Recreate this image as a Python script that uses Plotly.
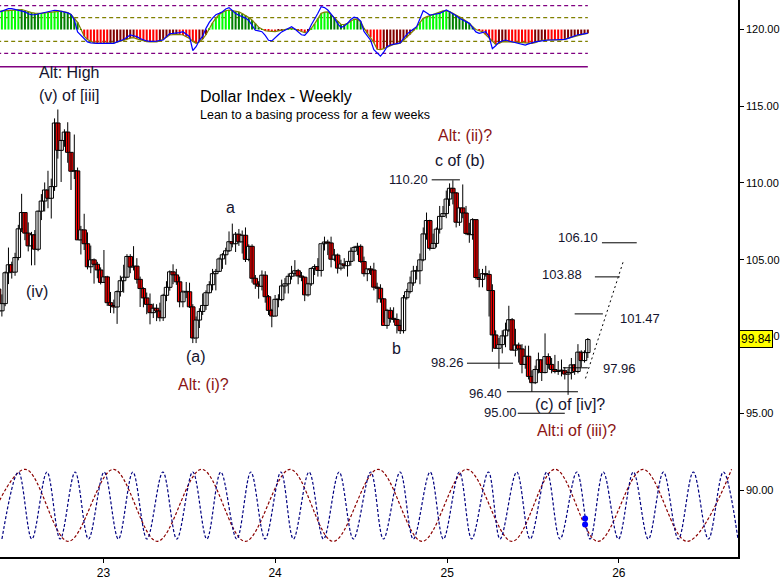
import pandas as pd
import plotly.graph_objects as go
from datetime import datetime, timedelta

# ---------------- data ----------------
week_start = "2022-05-23"
opens = [103.09,101.67,102.14,104.15,104.67,104.19,105.14,107.01,108.07,106.73,105.90,106.62,105.68,108.16,108.82,109.54,109.00,109.76,113.90,112.12,112.76,113.31,111.99,110.76,110.78,106.29,106.94,106.04,104.54,104.99,104.70,104.33,
 103.52,103.88,102.20,102.02,101.92,102.92,103.63,103.86,105.21,104.52,104.58,103.72,103.12,102.51,102.09,101.55,101.84,101.66,101.22,102.68,103.20,104.21,104.01,103.56,102.26,102.90,102.91,101.93,99.90,101.07,101.63,102.02,102.85,103.37,104.09,104.24,105.05,105.32,105.58,106.17,106.04,106.66,106.16,106.59,105.02,105.87,103.79,103.41,103.27,103.99,102.59,101.70,
 101.33,102.42,102.40,103.29,103.43,103.92,104.11,104.28,103.94,103.86,102.71,103.43,104.43,104.55,104.30,106.04,106.15,106.09,105.03,105.30,104.45,104.72,104.61,104.89,105.55,105.80,105.87,104.88,104.09,104.40,104.33,103.21,103.14,102.45,100.72,101.70,101.18,101.11,100.72,100.38,102.52,102.92,103.49,104.26,104.28,104.99,106.68,107.55,105.74,106.06,106.99,107.82,108.00,
 108.95,109.65,109.35,107.44,108.37,108.04,106.71,106.63,107.61,103.84,103.72,104.09,104.04,102.99,100.10,99.23,99.47,100.04,100.42,101.09,99.11,99.44,99.19,98.18,98.71,97.40,96.99,97.85,98.48,97.65,98.69,98.18,97.85,97.72,97.77,97.77,97.55,97.65,98.15,97.72,98.98,98.43,98.95]
highs = [103.21,102.74,104.24,105.79,104.87,105.45,107.27,109.29,108.06,107.43,106.81,106.93,108.20,109.27,110.03,110.79,110.28,114.20,114.78,112.81,113.49,113.95,112.00,113.15,111.00,107.20,107.99,106.78,105.92,105.08,104.86,104.50,
 105.63,103.95,102.90,102.40,103.00,103.96,104.67,105.36,105.36,105.88,105.10,103.90,103.20,102.86,102.80,102.15,102.10,102.20,102.78,103.60,104.30,104.70,104.40,103.90,103.00,103.55,103.50,102.10,101.30,101.84,102.80,103.00,103.60,104.40,104.40,105.15,105.43,105.78,106.84,107.35,106.80,107.00,106.90,107.10,106.00,106.00,104.00,103.60,104.30,104.25,102.70,101.80,
 102.70,102.75,103.70,103.80,104.10,104.60,104.97,104.40,104.20,103.90,103.50,104.50,104.70,105.10,106.00,106.50,106.30,106.50,105.70,105.40,105.00,105.10,104.90,105.80,105.90,106.10,106.00,105.20,104.40,104.60,104.80,103.50,103.40,102.50,101.80,101.90,101.90,101.50,101.10,102.70,103.10,103.90,104.60,104.60,105.40,107.10,108.07,107.60,106.70,107.10,108.50,108.50,109.50,
 109.97,110.17,109.40,108.40,109.90,108.50,107.40,107.70,107.60,104.40,104.40,104.60,104.30,103.40,100.40,99.90,100.40,100.90,102.00,101.20,100.50,99.60,99.50,99.40,99.40,97.80,98.10,98.95,98.50,100.20,98.90,98.60,98.80,98.40,98.50,98.00,97.90,98.60,98.20,99.50,99.10,99.10,99.90]
lows = [101.43,101.30,101.97,103.41,103.77,103.95,104.96,106.80,106.27,105.54,104.63,104.64,105.55,107.58,108.14,108.35,107.68,109.48,111.58,110.06,112.35,111.31,109.54,110.25,106.29,105.34,105.63,104.37,104.12,103.44,103.79,103.39,
 103.50,101.99,101.53,101.50,100.82,102.60,102.85,103.80,104.12,104.30,103.44,101.92,101.90,101.45,100.79,101.20,101.00,100.98,101.01,102.30,102.98,103.40,103.36,101.90,101.90,102.50,101.86,99.57,99.57,100.55,101.40,101.73,102.80,103.00,103.00,104.20,104.40,104.67,105.50,105.80,105.50,105.90,105.40,104.85,104.90,103.50,103.10,102.46,103.00,102.20,101.40,100.60,
 101.30,101.90,102.30,102.80,102.80,103.70,103.90,103.40,103.60,102.30,102.60,103.30,104.00,103.90,103.90,105.60,105.30,104.50,104.90,104.10,104.30,104.40,103.90,104.60,104.90,105.30,104.80,103.90,103.60,104.00,103.00,102.20,102.20,100.90,100.50,100.90,100.90,100.20,100.16,100.20,102.40,102.80,103.30,103.70,103.40,104.90,106.30,105.60,105.70,105.80,106.70,107.80,107.70,
 108.50,108.60,107.10,107.20,107.70,106.60,106.10,106.30,103.70,103.20,103.20,103.90,101.30,99.00,99.20,97.90,98.90,99.30,100.30,99.10,98.70,98.30,97.60,97.90,97.20,96.40,96.90,97.60,97.10,97.60,97.90,97.60,97.60,97.50,97.40,97.20,96.20,97.20,97.50,97.60,98.00,98.30,98.60]
closes = [101.67,102.14,104.15,104.67,104.19,105.14,107.01,108.07,106.73,105.90,106.62,105.68,108.16,108.82,109.54,109.00,109.76,113.90,112.12,112.76,113.31,111.99,110.76,110.78,106.29,106.94,106.04,104.54,104.99,104.70,104.33,103.52,
 103.88,102.20,102.02,101.92,102.92,103.63,103.86,105.21,104.52,104.58,103.72,103.12,102.51,102.09,101.55,101.84,101.66,101.22,102.68,103.20,104.21,104.01,103.56,102.26,102.90,102.91,101.93,99.90,101.07,101.63,102.02,102.85,103.37,104.09,104.24,105.05,105.32,105.58,106.17,106.04,106.66,106.16,106.59,105.02,105.87,103.79,103.41,103.27,103.99,102.59,101.70,101.33,
 102.42,102.40,103.29,103.43,103.92,104.11,104.28,103.94,103.86,102.71,103.43,104.43,104.55,104.30,106.04,106.15,106.09,105.03,105.30,104.45,104.72,104.61,104.89,105.55,105.80,105.87,104.88,104.09,104.40,104.33,103.21,103.14,102.45,100.72,101.70,101.18,101.11,100.72,100.38,102.52,102.92,103.49,104.26,104.28,104.99,106.68,107.55,105.74,106.06,106.99,107.82,108.00,108.95,
 109.65,109.35,107.44,108.37,108.04,106.71,106.63,107.61,103.84,103.72,104.09,104.04,102.99,100.10,99.23,99.47,100.04,100.42,101.09,99.11,99.44,99.19,98.18,98.71,97.40,96.99,97.85,98.48,97.65,98.69,98.18,97.85,97.72,97.77,97.77,97.55,97.65,98.15,97.72,98.98,98.43,98.95,99.80]

# oscillator (top panel): smoothed value (histogram) and fast line
osc_hist = [77,78,80,81,82,83,85,84,80,75,71,69,68,68,70,72,74,76,78,77,74,71,63,48,30,2,-28,-42,-50,-56,
 -58,-58,-58,-58,-57,-56,-53,-50,-46,-41,-36,-34,-39,-44,-48,-51,-52,-52,-52,-48,-41,-32,-23,-21,-20,-21,-23,-30,-37,-50,
 -58,-52,-40,-22,5,28,48,63,72,79,82,80,77,74,67,60,50,40,25,10,2,-5,-7,-9,-9,-6,-2,1,3,5,
 2,-2,-8,-13,-8,5,24,48,68,73,74,62,49,36,22,21,26,35,44,42,33,6,-15,-32,-55,-83,-84,-80,-74,-68,
 -63,-60,-57,-45,-33,-21,-5,11,30,47,53,58,61,67,72,78,78,75,68,61,54,45,36,27,12,0,-5,-9,-22,-36,
 -50,-62,-58,-52,-51,-51,-51,-52,-54,-55,-56,-57,-58,-55,-50,-45,-44,-44,-44,-44,-44,-44,-40,-36,-31,-27,-23,-20,-18,-16]
osc_fast = [72,78,84,88,88,85,83,80,74,66,62,62,65,67,70,74,78,81,80,77,74,70,63,40,-10,-25,-40,-52,-56,-58,
 -58,-58,-58,-58,-58,-58,-52,-47,-42,-32,-23,-26,-30,-38,-44,-48,-50,-51,-49,-46,-44,-30,-17,-16,-16,-13,-9,-20,-30,-88,
 -72,-45,-28,5,30,48,62,68,75,86,92,80,67,60,54,48,38,18,-3,-6,-9,-25,-45,-48,-37,-22,-10,-2,5,12,
 2,-9,-22,-24,-9,20,42,68,96,92,82,65,48,25,8,15,26,42,52,48,35,-8,-28,-45,-85,-100,-112,-95,-72,-65,
 -62,-60,-56,-38,-20,-8,2,12,45,79,70,61,63,66,68,75,82,75,68,58,47,40,33,26,8,-10,-16,-13,-9,-30,
 -80,-68,-53,-48,-44,-48,-52,-56,-59,-62,-65,-60,-55,-52,-50,-47,-44,-44,-44,-44,-43,-42,-41,-37,-32,-26,-22,-20,-17,-15]
osc_levels = [100, 50, -50, -100]

# cycle projections (bottom panel): turning points (decimal years, cycle value)
red_cycle_t = [22.288,22.544,22.795,23.058,23.313,23.572,23.825,24.087,24.337,24.599,24.855,25.115,25.379,25.629,25.879,26.141,26.397,26.657]
red_cycle_v = [-1.07,1.08,-1.07,1.08,-1.07,1.08,-1.07,1.08,-1.07,1.08,-1.07,1.08,-1.07,1.08,-1.07,1.08,-1.07,1.08]
blue_cycle_t = [22.409,22.505,22.583,22.671,22.748,22.835,22.913,23.004,23.087,23.171,23.253,23.346,23.427,23.520,23.602,23.683,23.776,23.858,
 23.941,24.033,24.106,24.197,24.281,24.372,24.455,24.556,24.630,24.727,24.804,24.902,24.979,25.072,25.144,25.241,25.309,25.406,25.484,25.581,
 25.658,25.756,25.833,25.910,25.998,26.085,26.172,26.260,26.347,26.434,26.522,26.609,26.694]
blue_cycle_v = [-1 if i % 2 == 0 else 1 for i in range(len(blue_cycle_t))]
cycle_marks_t = [25.804, 25.804]
cycle_marks_v = [-0.39, -0.57]

# price levels
levels = [110.20, 98.26, 96.40, 95.00, 97.96, 101.47, 103.88, 106.10]
level_from = ["2024-11-29", "2025-02-12", "2025-05-08", "2025-05-31", "2025-09-04", "2025-09-29", "2025-11-11", "2025-11-26"]
level_to = ["2025-01-28", "2025-05-21", "2025-10-06", "2025-09-08", "2025-10-27", "2025-11-28", "2026-01-03", "2026-02-08"]
proj_t = ["2025-10-22", "2026-01-10"]
proj_v = [97.27, 104.85]
last_price = 99.84
y_ticks = [90, 95, 100, 105, 110, 115, 120]

# ---------------- helpers ----------------
def yr(t):
    return datetime(2023, 1, 1) + timedelta(days=(t - 23) * 365.25)

dates = pd.date_range(week_start, periods=len(closes), freq="7D")
DAY_MS = 24 * 3600 * 1000

hist_colors = []
for i, v in enumerate(osc_hist):
    prev = osc_hist[i - 1] if i > 0 else v
    if v >= 0:
        hist_colors.append("#00ff00" if v >= prev else "#008000")
    else:
        hist_colors.append("#ff0000" if v <= prev else "#800000")

FONT = "Liberation Sans, Arial, sans-serif"
DARK = "#14142e"
RED = "#8b1414"

fig = go.Figure()

# cycles
fig.add_trace(go.Scatter(x=[yr(t) for t in red_cycle_t], y=red_cycle_v, yaxis="y3", mode="lines",
                         line=dict(color="#8b0000", width=1.2, dash="3px,2px", shape="spline", smoothing=1.0),
                         hoverinfo="skip", showlegend=False))
fig.add_trace(go.Scatter(x=[yr(t) for t in blue_cycle_t], y=blue_cycle_v, yaxis="y3", mode="lines",
                         line=dict(color="#000080", width=1.2, dash="3px,2px", shape="spline", smoothing=1.0),
                         hoverinfo="skip", showlegend=False))
fig.add_trace(go.Scatter(x=[yr(t) for t in cycle_marks_t], y=cycle_marks_v, yaxis="y3", mode="markers",
                         marker=dict(color="#0000ff", size=6), hoverinfo="skip", showlegend=False))

# oscillator
fig.add_trace(go.Bar(x=dates, y=osc_hist, yaxis="y2", marker=dict(color=hist_colors, line=dict(width=0)),
                     width=4.3 * DAY_MS, hoverinfo="skip", showlegend=False))
fig.add_trace(go.Scatter(x=dates, y=osc_hist, yaxis="y2", mode="lines", line=dict(color="#808000", width=1.2),
                         hoverinfo="skip", showlegend=False))
fig.add_trace(go.Scatter(x=dates, y=osc_fast, yaxis="y2", mode="lines", line=dict(color="#0000ff", width=1.2),
                         hoverinfo="skip", showlegend=False))

# candles: wicks then bodies
wx, wy = [], []
for d, lo, hi in zip(dates, lows, highs):
    wx += [d, d, None]
    wy += [lo, hi, None]
fig.add_trace(go.Scatter(x=wx, y=wy, mode="lines", line=dict(color="black", width=1),
                         hoverinfo="skip", showlegend=False))
body_base = [min(o, c) for o, c in zip(opens, closes)]
body_h = [max(abs(c - o), 0.04) for o, c in zip(opens, closes)]
body_col = ["white" if c >= o else "#ff0000" for o, c in zip(opens, closes)]
fig.add_trace(go.Bar(x=dates, y=body_h, base=body_base, width=9.4 * DAY_MS,
                     marker=dict(color=body_col, line=dict(color="black", width=1)),
                     hoverinfo="skip", showlegend=False))

# projection dotted line
fig.add_trace(go.Scatter(x=proj_t, y=proj_v, mode="lines", line=dict(color="black", width=1, dash="2px,3px"),
                         hoverinfo="skip", showlegend=False))

shapes = []
osc_end = str(dates[-1].date())
for lv in osc_levels:
    col = "#800080" if abs(lv) == 100 else "#808000"
    shapes.append(dict(type="line", xref="x", yref="y2", x0="2022-05-20", x1=osc_end, y0=lv, y1=lv,
                       line=dict(color=col, width=1.2, dash="4px,3px"), layer="below"))
shapes.append(dict(type="line", xref="x", yref="y2", x0="2022-05-20", x1=osc_end, y0=-156, y1=-156,
                   line=dict(color="#800080", width=1.5)))
for lv, a, b in zip(levels, level_from, level_to):
    shapes.append(dict(type="line", xref="x", yref="y", x0=a, x1=b, y0=lv, y1=lv,
                       line=dict(color="black", width=1)))

ann = []
def txt(s, x, y, color=DARK, size=16, xanchor="center"):
    ann.append(dict(text=s, x=x, y=y, xref="paper", yref="paper", showarrow=False,
                    font=dict(family=FONT, size=size, color=color), xanchor=xanchor, yanchor="middle"))

txt("Alt: High", 0.0935, 0.8707)
txt("(v) of [iii]", 0.0935, 0.8294)
txt("Dollar Index - Weekly", 198 / 738, 0.8276, color="#000000", xanchor="left")
txt("Lean to a basing process for a few weeks", 198 / 738, 0.7935, color="#000000", size=12.5, xanchor="left")
txt("(iv)", 0.0501, 0.4758)
txt("(a)", 0.2656, 0.3591)
txt("Alt: (i)?", 0.2764, 0.3088, color=RED)
txt("a", 0.313, 0.6266)
txt("b", 0.5379, 0.3752)
txt("Alt: (ii)?", 0.6301, 0.7576, color=RED)
txt("c of (b)", 0.6233, 0.7127)
txt("(c) of [iv]?", 0.7724, 0.2729)
txt("Alt:i of (iii)?", 0.7805, 0.2280, color=RED)
txt(f"{levels[0]:.2f}", 430 / 738, 0.6786, size=13, xanchor="right")
txt(f"{levels[1]:.2f}", 466 / 738, 0.3500, size=13, xanchor="right")
txt(f"{levels[2]:.2f}", 504 / 738, 0.2944, size=13, xanchor="right")
txt(f"{levels[3]:.2f}", 519 / 738, 0.2603, size=13, xanchor="right")
txt(f"{levels[4]:.2f}", 601 / 738, 0.3384, size=13, xanchor="left")
txt(f"{levels[5]:.2f}", 618 / 738, 0.4285, size=13, xanchor="left")
txt(f"{levels[6]:.2f}", 584 / 738, 0.5075, size=13, xanchor="right")
txt(f"{levels[7]:.2f}", 600 / 738, 0.5745, size=13, xanchor="right")

ann.append(dict(text=f"{last_price:.2f}", x=1, y=last_price, xref="paper", yref="y", xshift=1, showarrow=False,
                xanchor="left", yanchor="middle", bgcolor="#ffff00", bordercolor="black", borderwidth=1, borderpad=1,
                font=dict(family=FONT, size=12, color="black")))

fig.update_layout(
    width=781, height=579,
    margin=dict(l=0, r=43, t=0, b=22),
    paper_bgcolor="white", plot_bgcolor="white",
    showlegend=False, barmode="overlay",
    xaxis=dict(type="date", range=["2022-05-26", "2026-09-11 08:00"],
               tickvals=["2023-01-01", "2024-01-01", "2025-01-01", "2026-01-01"], ticktext=["23", "24", "25", "26"],
               ticks="outside", ticklen=4, tickcolor="black", showline=True, linecolor="black", linewidth=1.5,
               showgrid=False, zeroline=False, tickfont=dict(family=FONT, size=12, color="black")),
    yaxis=dict(side="right", range=[85.64, 121.91], tickvals=y_ticks, ticktext=[f"{v:.2f}" for v in y_ticks],
               ticks="outside", ticklen=4, tickcolor="black", showline=True, linecolor="black", linewidth=1.5,
               showgrid=False, zeroline=False, tickfont=dict(family=FONT, size=11, color="black")),
    yaxis2=dict(domain=[0.8743, 1], range=[-170, 124], visible=False, anchor="x", fixedrange=True),
    yaxis3=dict(domain=[0, 0.21], range=[-1.537, 1.955], visible=False, anchor="x", fixedrange=True),
    shapes=shapes, annotations=ann,
)

fig.write_html("out.html", config={"displayModeBar": False},
               post_script="document.body.style.margin='0';document.body.style.overflow='hidden';")
